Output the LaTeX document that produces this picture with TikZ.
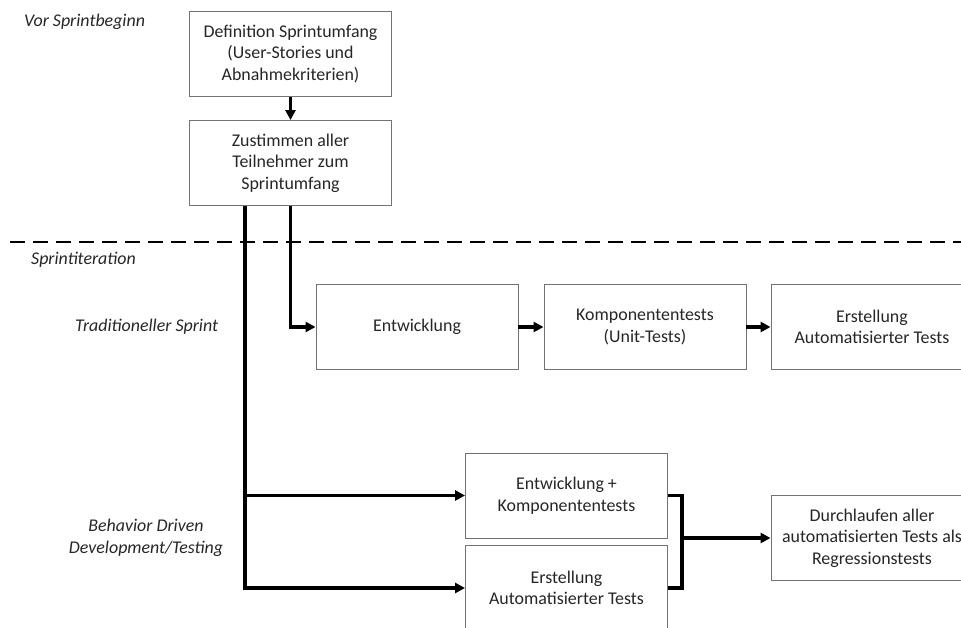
\documentclass[tikz,border=0pt]{standalone}
\usepackage{fontspec}
\setmainfont{Carlito}
\usetikzlibrary{arrows.meta,calc}
\begin{document}
\begin{tikzpicture}[x=1pt,y=-1pt,
  stepbox/.style={draw=black!55,line width=0.9pt,fill=white,minimum width=202pt,minimum height=85pt,
    align=center,inner sep=0pt,font=\fontsize{17.9}{21.5}\selectfont,text=black!85},
  lbl/.style={font=\fontsize{17.9}{21.5}\selectfont\itshape,text=black!85,inner sep=0pt},
  flow/.style={line width=3.2pt,-{Triangle[length=10pt,width=10pt]}},
  bracketline/.style={line width=3.2pt}]
\useasboundingbox (0,0) rectangle (961,628);
\clip (0,0) rectangle (961,628);

% phase labels
\node[lbl,anchor=west] (l1) at (24,22) {Vor Sprintbeginn};
\node[lbl,anchor=west] (l2) at (31,260) {Sprintiteration};
\node[lbl,anchor=west] (l3) at (75,327) {Traditioneller Sprint};
\node[lbl,align=center] (l4) at (146,538) {Behavior Driven\\Development/Testing};

% phase separator
\draw[line width=2pt,dash pattern=on 15pt off 8pt] (10,242) -- (961,242);

% before the sprint
\node[stepbox] (A) at (290.5,54) {Definition Sprintumfang\\(User-Stories und\\Abnahmekriterien)};
\node[stepbox] (B) at (290.5,163) {Zustimmen aller\\Teilnehmer zum\\Sprintumfang};

% traditional sprint
\node[stepbox] (E) at (417,327) {Entwicklung};
\node[stepbox] (K) at (645,327) {Komponententests\\(Unit-Tests)};
\node[stepbox] (T) at (872,327) {Erstellung\\Automatisierter Tests};

% behavior driven sprint
\node[stepbox] (EK) at (566.5,495.5) {Entwicklung +\\Komponententests};
\node[stepbox] (EA) at (566.5,588) {Erstellung\\Automatisierter Tests};
\node[stepbox] (D) at (872,538) {Durchlaufen aller\\automatisierten Tests als\\Regressionstests};

% connectors
\draw[flow] (A) -- (B);
\draw[flow] (B.south) |- (E.west);
\draw[flow] (E) -- (K);
\draw[flow] (K) -- (T);
\coordinate (L) at ($(B.south west)+(56,0)$);
\draw[flow] (L) |- (EK.west);
\draw[flow] (L) |- (EA.west);
\coordinate (br) at ($(EK.east)+(14,42.5)$);
\draw[bracketline] (EK.east) -| (br) |- (EA.east);
\draw[flow] (br) -- (D.west);
\end{tikzpicture}
\end{document}
